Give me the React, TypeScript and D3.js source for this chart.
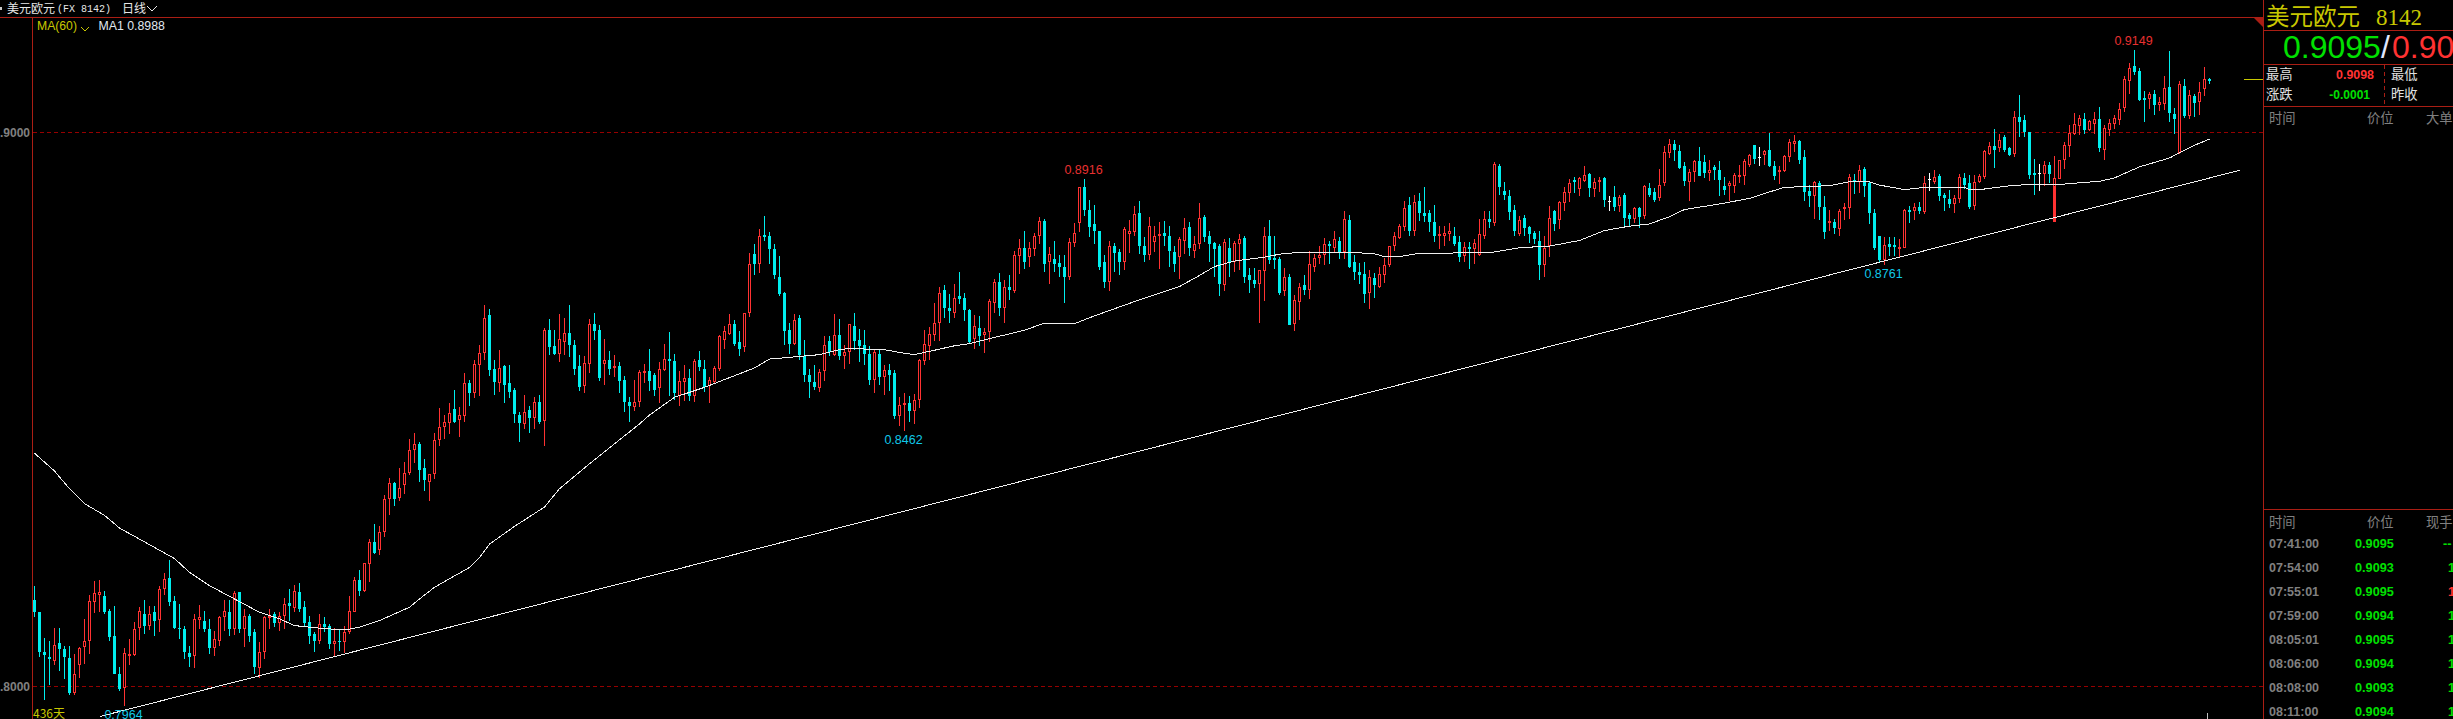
import React, { useEffect, useRef } from 'react';
import * as d3 from 'd3';

// prices are stored x 10000 (8000 = 0.8000)
const opens = [
  8157,8134,8063,8054,8046,8078,8067,8052,7989,8038,8071,8082,8152,8165,8164,8137,8092,8023,7998,8055,
  8057,8105,8131,8110,8135,8120,8176,8195,8154,8106,8104,8061,8055,8120,8119,8103,8069,8083,8125,8135,
  8104,8170,8103,8128,8098,8033,8062,8123,8130,8114,8127,8150,8142,8170,8143,8117,8094,8083,8112,8110,
  8076,8083,8081,8099,8135,8192,8172,8221,8260,8246,8279,8338,8367,8340,8363,8386,8426,8437,
  8395,8369,8383,8445,8468,8475,8501,8481,8489,8547,8530,8581,8602,8670,8573,8548,8579,8547,8536,8490,
  8474,8499,8485,8514,8479,8643,8614,8601,8622,8638,8617,8578,8542,8583,8654,8643,8582,8590,8576,8578,
  8554,8513,8505,8513,8566,8569,8563,8538,8572,8592,8587,8525,8550,8557,8525,8589,8574,8542,8549,8574,
  8626,8637,8654,8621,8612,8675,8780,8763,8815,8813,8790,8739,8710,8643,8619,8666,8596,8563,8549,8538,
  8569,8623,8598,8634,8596,8603,
  8650,8625,8616,8600,8553,8601,8559,8572,8565,8489,8510,8511,8497,8518,8587,8614,8634,8657,8715,8683,
  8674,8704,8702,8679,8628,8648,8634,8639,8693,8731,8683,8722,8713,8777,8791,8775,8789,8813,8840,8766,
  8771,8764,8757,8739,8800,8836,8901,8861,8834,8822,8767,8730,8795,8784,8766,8816,8820,8854,8795,8778,
  8802,8813,8819,8814,8784,8775,8804,8829,8786,8798,8847,8813,8800,8795,8724,8791,8767,8798,8809,8742,
  8733,8726,8750,8813,8773,8771,8713,8740,8654,8694,
  8724,8716,8758,8773,8778,8798,8791,8805,8784,8842,8766,8749,8744,8710,8737,8722,8742,8760,8795,8809,
  8829,8869,8823,8876,8854,8854,8838,8813,8814,8816,8814,8802,8777,8793,8789,8778,8814,8843,8836,8939,
  8894,8885,8860,8816,8845,8829,8818,8805,8760,8795,8858,8842,8872,8890,8914,8898,8912,8925,8898,8910,
  8917,8876,8883,8867,8887,8851,8843,8863,8849,8899,8892,8881,8909,8963,8980,8966,8939,8910,8928,8948,
  8946,8926,8937,8933,8904,8903,8904,8921,8922,8942,8978,8956,8959,8968,8939,8931,8930,8956,8979,8984,
  8956,8894,8885,8909,8865,8836,8838,8826,8862,8864,8914,8910,8934,8909,8855,8813,8770,8799,8797,8792,
  8791,8860,8858,8865,8856,8916,8910,8921,8887,8880,8871,8880,8918,8909,8867,8910,8920,8961,8976,8972,
  8992,8972,8961,9028,9022,9001,8926,8927,8925,8941,8839,8916,8950,8976,8997,9012,9024,9004,9015,9024,
  8968,9004,9015,9022,9044,9093,9120,9111,9062,9060,9069,9050,9051,9082,9033,8963,9084,9030,9066,9055,
  9078,9097,
];
const highs = [
  8182,8135,8088,8083,8106,8106,8074,8074,8058,8072,8121,8166,8190,8193,8173,8139,8145,8035,8069,8085,
  8117,8143,8157,8145,8145,8182,8204,8228,8163,8149,8110,8074,8131,8148,8137,8122,8101,8128,8157,8157,
  8172,8170,8139,8131,8103,8081,8128,8140,8134,8134,8160,8176,8184,8186,8155,8128,8099,8130,8126,8113,
  8106,8103,8110,8163,8198,8210,8223,8267,8294,8289,8345,8377,8370,8395,8405,8447,8458,8442,
  8410,8384,8458,8502,8490,8511,8536,8505,8565,8554,8589,8616,8688,8681,8589,8607,8581,8581,8538,8495,
  8527,8507,8522,8527,8648,8663,8643,8672,8666,8688,8625,8598,8596,8664,8675,8652,8628,8605,8598,8585,
  8561,8522,8554,8572,8583,8610,8565,8585,8619,8639,8601,8570,8581,8574,8592,8605,8589,8558,8578,8634,
  8650,8672,8661,8641,8675,8782,8799,8826,8849,8820,8799,8777,8712,8657,8672,8670,8625,8574,8581,8574,
  8632,8632,8672,8663,8616,8655,
  8675,8645,8643,8614,8607,8607,8581,8583,8571,8522,8530,8525,8528,8592,8643,8649,8692,8722,8724,8708,
  8726,8748,8711,8681,8670,8668,8648,8699,8735,8746,8733,8742,8787,8807,8822,8802,8818,8847,8843,8793,
  8805,8778,8778,8809,8836,8901,8916,8879,8869,8822,8778,8805,8800,8789,8829,8842,8867,8876,8811,8847,
  8832,8838,8840,8832,8796,8811,8845,8838,8813,8872,8851,8823,8802,8798,8807,8809,8805,8816,8813,8755,
  8755,8751,8829,8842,8813,8775,8755,8744,8706,8728,
  8742,8786,8780,8795,8809,8805,8822,8811,8858,8851,8778,8764,8767,8751,8746,8758,8773,8796,8820,8834,
  8876,8883,8888,8890,8901,8860,8869,8832,8832,8836,8829,8814,8802,8802,8807,8843,8858,8858,8946,8943,
  8910,8896,8869,8849,8851,8832,8822,8822,8813,8867,8860,8876,8901,8916,8919,8919,8939,8926,8917,8919,
  8919,8885,8903,8887,8890,8854,8865,8865,8905,8908,8899,8934,8975,8989,8987,8978,8946,8935,8951,8973,
  8960,8951,8941,8948,8919,8913,8926,8942,8953,8962,8978,8973,8968,8999,8948,8939,8959,8988,8995,8986,
  8968,8905,8912,8912,8885,8860,8844,8862,8873,8925,8925,8941,8938,8912,8862,8813,8811,8811,8811,8808,
  8862,8867,8873,8874,8921,8927,8932,8925,8891,8896,8887,8925,8927,8923,8923,8925,8968,8983,9006,8997,
  8995,8974,9039,9068,9031,9001,8952,8943,8948,8947,8957,8950,8983,9013,9035,9031,9035,9022,9037,9046,
  9013,9024,9031,9053,9102,9125,9149,9116,9075,9073,9077,9064,9102,9147,9044,9093,9097,9077,9069,9091,
  9118,9098,
];
const lows = [
  8125,8053,7975,8002,8038,8028,8014,7984,7985,8015,8041,8058,8132,8135,8130,8082,8022,7991,7964,8038,
  8055,8084,8094,8102,8092,8098,8166,8146,8104,8085,8049,8035,8033,8104,8098,8058,8055,8073,8101,8091,
  8093,8096,8071,8080,8022,8016,8049,8104,8107,8100,8104,8119,8134,8134,8107,8077,8063,8076,8098,8068,
  8053,8064,8061,8095,8134,8164,8170,8188,8240,8237,8270,8309,8325,8334,8347,8381,8403,8369,
  8352,8334,8374,8434,8446,8455,8475,8451,8478,8507,8520,8524,8589,8561,8527,8531,8511,8520,8475,8442,
  8464,8458,8465,8473,8435,8599,8599,8585,8599,8594,8563,8534,8529,8565,8625,8552,8545,8563,8558,8529,
  8496,8478,8498,8505,8547,8534,8525,8511,8570,8525,8517,8507,8516,8516,8513,8570,8531,8511,8547,8569,
  8610,8634,8614,8596,8603,8667,8743,8747,8804,8762,8735,8705,8617,8601,8616,8589,8549,8520,8536,8531,
  8552,8596,8596,8589,8574,8582,
  8607,8586,8581,8544,8530,8545,8527,8534,8483,8471,8462,8477,8473,8502,8580,8589,8624,8623,8665,8657,
  8666,8690,8659,8618,8610,8614,8602,8622,8674,8669,8656,8697,8711,8744,8753,8757,8777,8798,8749,8726,
  8748,8739,8693,8733,8793,8820,8849,8811,8798,8752,8719,8713,8749,8742,8751,8782,8813,8780,8767,8769,
  8784,8753,8796,8758,8749,8735,8780,8777,8773,8789,8802,8767,8739,8704,8713,8739,8748,8751,8728,8710,
  8719,8657,8695,8762,8753,8706,8704,8652,8641,8661,
  8706,8699,8749,8762,8760,8762,8784,8771,8771,8755,8733,8726,8692,8681,8701,8720,8728,8758,8786,8807,
  8823,8814,8813,8840,8838,8820,8802,8789,8795,8804,8796,8767,8766,8753,8762,8777,8807,8827,8831,8888,
  8879,8842,8814,8814,8813,8800,8798,8733,8740,8775,8822,8825,8858,8874,8890,8885,8910,8883,8883,8892,
  8865,8858,8858,8856,8827,8829,8836,8827,8843,8883,8874,8876,8903,8954,8948,8935,8903,8876,8910,8921,
  8917,8912,8915,8885,8887,8876,8890,8908,8906,8938,8944,8939,8941,8938,8914,8907,8929,8947,8965,8943,
  8876,8865,8844,8842,8808,8822,8817,8813,8842,8844,8889,8890,8883,8835,8788,8766,8761,8777,8777,8775,
  8791,8836,8842,8853,8853,8894,8907,8876,8858,8864,8855,8873,8898,8862,8860,8909,8916,8959,8936,8965,
  8965,8957,8956,8992,8992,8916,8887,8894,8903,8909,8838,8916,8934,8956,8995,8995,8997,9003,8997,8965,
  8950,8994,9006,9013,9037,9069,9104,9057,9019,9042,9031,9039,9041,9019,8997,8961,9026,9024,9028,9031,
  9066,9087,
];
const closes = [
  8134,8063,8056,8049,8075,8067,8053,7989,8023,8070,8083,8155,8168,8171,8134,8090,8022,7995,8061,8059,
  8104,8137,8110,8131,8119,8176,8194,8152,8106,8103,8062,8054,8121,8126,8104,8069,8085,8126,8137,8104,
  8169,8103,8128,8092,8035,8063,8125,8127,8115,8127,8149,8145,8172,8139,8115,8092,8083,8112,8108,8076,
  8083,8080,8099,8137,8192,8173,8223,8261,8241,8278,8339,8368,8339,8359,8386,8427,8438,8390,
  8372,8384,8445,8469,8478,8494,8478,8490,8548,8530,8583,8602,8666,8572,8549,8575,8545,8531,8491,8475,
  8496,8484,8514,8478,8644,8612,8601,8628,8638,8617,8574,8540,8584,8654,8641,8556,8590,8574,8578,8551,
  8513,8507,8514,8567,8569,8552,8536,8574,8592,8587,8529,8552,8557,8524,8587,8576,8540,8554,8575,8632,
  8642,8655,8619,8610,8675,8762,8762,8814,8812,8790,8743,8708,8641,8619,8662,8599,8563,8549,8540,8568,
  8617,8603,8634,8596,8603,8654,
  8623,8614,8600,8553,8603,8558,8571,8563,8489,8509,8511,8497,8518,8589,8618,8637,8657,8711,8683,8677,
  8702,8699,8679,8621,8650,8632,8639,8695,8730,8683,8722,8715,8778,8791,8767,8791,8813,8840,8762,8780,
  8762,8757,8740,8802,8819,8901,8860,8829,8822,8758,8731,8795,8782,8766,8825,8822,8852,8795,8778,8832,
  8813,8817,8813,8786,8762,8807,8827,8791,8798,8846,8811,8798,8789,8726,8802,8766,8800,8807,8740,8733,
  8726,8751,8813,8769,8769,8711,8740,8652,8697,8722,
  8715,8762,8774,8778,8798,8795,8807,8784,8843,8758,8748,8742,8708,8739,8724,8745,8760,8796,8814,8831,
  8864,8823,8874,8854,8849,8838,8814,8816,8818,8823,8798,8775,8793,8789,8800,8816,8843,8838,8943,8901,
  8887,8856,8823,8842,8827,8816,8807,8760,8791,8846,8834,8874,8892,8908,8910,8917,8923,8899,8910,8914,
  8879,8876,8865,8883,8845,8843,8864,8847,8903,8888,8879,8905,8964,8980,8969,8936,8913,8929,8948,8922,
  8926,8933,8932,8915,8897,8908,8924,8924,8948,8960,8953,8956,8966,8939,8921,8932,8958,8983,8984,8950,
  8892,8885,8910,8865,8820,8840,8827,8858,8865,8919,8910,8932,8903,8855,8791,8770,8797,8793,8793,8793,
  8860,8856,8865,8858,8909,8916,8920,8885,8882,8871,8882,8920,8905,8865,8910,8921,8966,8976,8968,8986,
  8968,8959,9028,9019,9001,8923,8923,8927,8941,8925,8917,8950,8977,8999,9015,9026,9004,9021,9024,8972,
  9008,9017,9026,9042,9096,9116,9109,9059,9059,9069,9050,9055,9080,9035,9024,9087,9030,9068,9053,9073,
  9097,9093,
];

// MA(60), read at these candle numbers
const maDays = [
  1,5,8,11,15,18,23,27,29,32,36,41,46,50,53,57,63,66,70,76,78,81,88,90,92,97,103,106,112,117,122,124,129,135,
  141,145,148,153,158,162,164,171,174,177,181,185,188,192,199,203,206,209,213,222,230,234,237,241,247,251,
  254,264,269,271,274,278,292,298,304,310,315,320,324,328,331,338,344,347,351,360,364,368,370,375,379,387,
  388,391,397,403,407,414,417,422,428,433,436,
];
const maValues = [
  8421,8389,8357,8330,8309,8286,8261,8241,8231,8206,8182,8158,8134,8122,8110,8106,8102,8107,8119,8143,8158,8179,8215,8233,8257,8289,8324,8357,8402,8438,8474,8490,8522,8540,
  8561,8575,8591,8595,8599,8608,8610,8608,8603,8599,8607,8615,8619,8628,8643,8656,8655,8655,8669,8698,8722,8742,8758,8768,8775,8782,
  8783,8784,8781,8776,8776,8782,8783,8792,8795,8805,8823,8831,8835,8848,8861,8871,8881,8890,8901,8904,8911,8911,8905,8897,8901,8901,
  8897,8898,8905,8906,8907,8912,8918,8938,8954,8977,8988,
];

const trendDays = [14.14, 442.14];
const trendValues = [7946, 8932];

const gridValues = [8000, 9000];
const gridLabels = ['.8000', '.9000'];

const highLabelDays = [211, 421];
const lowLabelDays = [19, 175, 371];

// candle 405 has its lower body painted solid
const solidDay = 405;
const solidTop = 8904;

const tradeTimes = ['07:41:00', '07:54:00', '07:55:01', '07:59:00', '08:05:01', '08:06:00', '08:08:00', '08:11:00'];
const tradePrices = ['0.9095', '0.9093', '0.9095', '0.9094', '0.9095', '0.9094', '0.9093', '0.9094'];
const tradeHands = ['--', '1', '1', '1', '1', '1', '1', '1'];
const tradeHandColors = ['#00e000', '#00e000', '#ff3232', '#00e000', '#00e000', '#00e000', '#00e000', '#00e000'];

const RED = '#ff3232';
const CYAN = '#00eeee';
const GREEN = '#00e000';
const YELLOW = '#c8c800';
const GRAY = '#808080';
const FRAME = '#aa1e14';
const GRID = '#960000';
const CJK = '"Noto Sans CJK SC", sans-serif';
const SANS = '"Liberation Sans", sans-serif';

const WIDTH = 2453;
const HEIGHT = 719;

const App: React.FC = () => {
  const svgRef = useRef<SVGSVGElement>(null);

  useEffect(() => {
    const svg = d3.select(svgRef.current);
    svg.selectAll('*').remove();

    const x = d3.scaleLinear().domain([1, 436]).range([34.5, 34.5 + 5 * 435]);
    const y = d3.scaleLinear().domain([8000, 9000]).range([686.5, 132.5]);
    const px = (v: number) => Math.round(y(v));

    const text = (
      label: string, tx: number, ty: number, size: number, fill: string,
      family = SANS, anchor = 'start', weight = 'normal'
    ) => svg.append('text')
      .attr('x', tx).attr('y', ty)
      .attr('font-size', size).attr('fill', fill)
      .attr('font-family', family).attr('text-anchor', anchor)
      .attr('font-weight', weight)
      .text(label);

    const rule = (x1: number, y1: number, x2: number, y2: number, color: string, dash?: string) =>
      svg.append('line')
        .attr('x1', x1).attr('y1', y1).attr('x2', x2).attr('y2', y2)
        .attr('stroke', color).attr('stroke-width', 1)
        .attr('stroke-dasharray', dash ?? null)
        .attr('shape-rendering', 'crispEdges');

    // Grid
    gridValues.forEach(v => rule(33, y(v), 2263, y(v), GRID, '4,3'));

    // Y Axis
    const axis = svg.append('g')
      .attr('transform', 'translate(30,0)')
      .call(d3.axisLeft(y).tickValues(gridValues).tickSize(0).tickPadding(0)
        .tickFormat((d, i) => gridLabels[i]));
    axis.select('.domain').remove();
    axis.selectAll('text')
      .attr('fill', GRAY)
      .attr('font-size', 12)
      .attr('font-weight', 'bold')
      .attr('font-family', SANS);

    // Candles
    const days = d3.range(436);
    const colorOf = (i: number) =>
      closes[i] > opens[i] ? RED : closes[i] < opens[i] ? CYAN : '#ffffff';
    const candles = svg.append('g').attr('shape-rendering', 'crispEdges');

    candles.selectAll('.wick')
      .data(days)
      .join('rect')
      .attr('class', 'wick')
      .attr('x', i => Math.floor(x(i + 1)))
      .attr('y', i => px(highs[i]))
      .attr('width', 1)
      .attr('height', i => Math.max(1, px(lows[i]) - px(highs[i])))
      .attr('fill', colorOf);

    candles.selectAll('.body-down')
      .data(days.filter(i => closes[i] <= opens[i]))
      .join('rect')
      .attr('class', 'body-down')
      .attr('x', i => Math.floor(x(i + 1)) - 1)
      .attr('y', i => px(opens[i]))
      .attr('width', 3)
      .attr('height', i => Math.max(1, px(closes[i]) - px(opens[i])))
      .attr('fill', colorOf);

    candles.selectAll('.body-up')
      .data(days.filter(i => closes[i] > opens[i]))
      .join('rect')
      .attr('class', 'body-up')
      .attr('x', i => Math.floor(x(i + 1)) - 0.5)
      .attr('y', i => px(closes[i]) + 0.5)
      .attr('width', 2)
      .attr('height', i => Math.max(1, px(opens[i]) - px(closes[i]) - 1))
      .attr('fill', '#000')
      .attr('stroke', RED)
      .attr('stroke-width', 1);

    candles.append('rect')
      .attr('x', Math.floor(x(solidDay)) - 1)
      .attr('y', px(solidTop))
      .attr('width', 3)
      .attr('height', px(opens[solidDay - 1]) - px(solidTop))
      .attr('fill', RED);

    // MA + trend line
    const line = d3.line<number>().x(d => x(d)).curve(d3.curveLinear);
    svg.append('path')
      .attr('d', line.y((d, i) => y(maValues[i]))(maDays))
      .attr('fill', 'none')
      .attr('stroke', '#f0f0f0')
      .attr('shape-rendering', 'crispEdges');
    svg.append('path')
      .attr('d', line.y((d, i) => y(trendValues[i]))(trendDays))
      .attr('fill', 'none')
      .attr('stroke', '#f0f0f0')
      .attr('shape-rendering', 'crispEdges');

    // High / low labels
    const fmt = (v: number) => (v / 10000).toFixed(4);
    highLabelDays.forEach(d =>
      text(fmt(highs[d - 1]), x(d) - 1, y(highs[d - 1]) - 5, 12.5, '#e83030', SANS, 'middle'));
    lowLabelDays.forEach(d =>
      text(fmt(lows[d - 1]), x(d) - 1, y(lows[d - 1]) + 13, 12.5, '#10c8e8', SANS, 'middle'));
    text('436天', 33, 718, 12, YELLOW, CJK);

    // Frame
    rule(0, 17.5, 2263, 17.5, FRAME);
    rule(32.5, 17, 32.5, HEIGHT, FRAME);
    rule(2263.5, 0, 2263.5, HEIGHT, FRAME);
    rule(2263, 30.5, WIDTH, 30.5, FRAME);
    rule(2263, 64.5, WIDTH, 64.5, FRAME);
    rule(2263, 106.5, WIDTH, 106.5, FRAME);
    rule(2263, 509.5, WIDTH, 509.5, FRAME);
    rule(2384.5, 65, 2384.5, 106, FRAME, '4,3');
    svg.append('polygon').attr('points', '2253,17 2263,17 2263,27').attr('fill', FRAME);
    rule(2244, 79.5, 2263, 79.5, YELLOW);
    rule(2207.5, 713, 2207.5, HEIGHT, '#c0c0c0');

    // Header
    svg.append('rect').attr('x', 0).attr('y', 7).attr('width', 2).attr('height', 3).attr('fill', '#c8c8c8');
    text('美元欧元', 7, 13, 12, '#e8e8e8', CJK);
    text('(FX 8142)', 57, 12, 10, '#e8e8e8', '"Liberation Mono", monospace');
    text('日线', 122, 13, 12, '#e8e8e8', CJK);
    svg.append('polyline').attr('points', '147,6 152,11 157,6').attr('fill', 'none').attr('stroke', '#e8e8e8');
    text('MA(60)', 37, 30, 12.2, YELLOW);
    svg.append('polyline').attr('points', '81,27 85,31 89,27').attr('fill', 'none').attr('stroke', YELLOW);
    text('MA1 0.8988', 98.5, 30, 12.3, '#e0e8f0');

    // Right panel
    text('美元欧元', 2266, 25, 23.5, YELLOW, CJK);
    text('8142', 2376, 25, 23, YELLOW, '"Liberation Serif", serif');
    text('0.9095', 2283, 58, 32, GREEN);
    text('/', 2381, 58, 32, '#e0e8ff');
    text('0.90', 2392, 58, 32, RED);
    text('最高', 2266, 79, 13.3, '#e0e0e0', CJK);
    text('涨跌', 2266, 99, 13.3, '#e0e0e0', CJK);
    text('最低', 2391, 79, 13.3, '#e0e0e0', CJK);
    text('昨收', 2391, 99, 13.3, '#e0e0e0', CJK);
    text('0.9098', 2374, 79, 12.4, RED, SANS, 'end', 'bold');
    text('-0.0001', 2370, 99, 12, GREEN, SANS, 'end', 'bold');
    text('时间', 2269, 123, 13.3, GRAY, CJK);
    text('价位', 2367, 123, 13.3, GRAY, CJK);
    text('大单', 2426, 123, 13.3, GRAY, CJK);
    text('时间', 2269, 527, 13.3, GRAY, CJK);
    text('价位', 2367, 527, 13.3, GRAY, CJK);
    text('现手', 2426, 527, 13.3, GRAY, CJK);

    const rowY = d3.scaleLinear().domain([0, 7]).range([548, 716]);
    tradeTimes.forEach((t, i) => {
      text(t, 2269, rowY(i), 12.5, GRAY, SANS, 'start', 'bold');
      text(tradePrices[i], 2355, rowY(i), 12.7, GREEN, SANS, 'start', 'bold');
      text(tradeHands[i], i === 0 ? 2443 : 2448, rowY(i), 12.7, tradeHandColors[i], SANS, 'start', 'bold');
    });
  }, []);

  return (
    <svg
      ref={svgRef}
      width={WIDTH}
      height={HEIGHT}
      style={{ position: 'fixed', left: 0, top: 0, display: 'block', background: '#000' }}
    />
  );
};

export default App;
